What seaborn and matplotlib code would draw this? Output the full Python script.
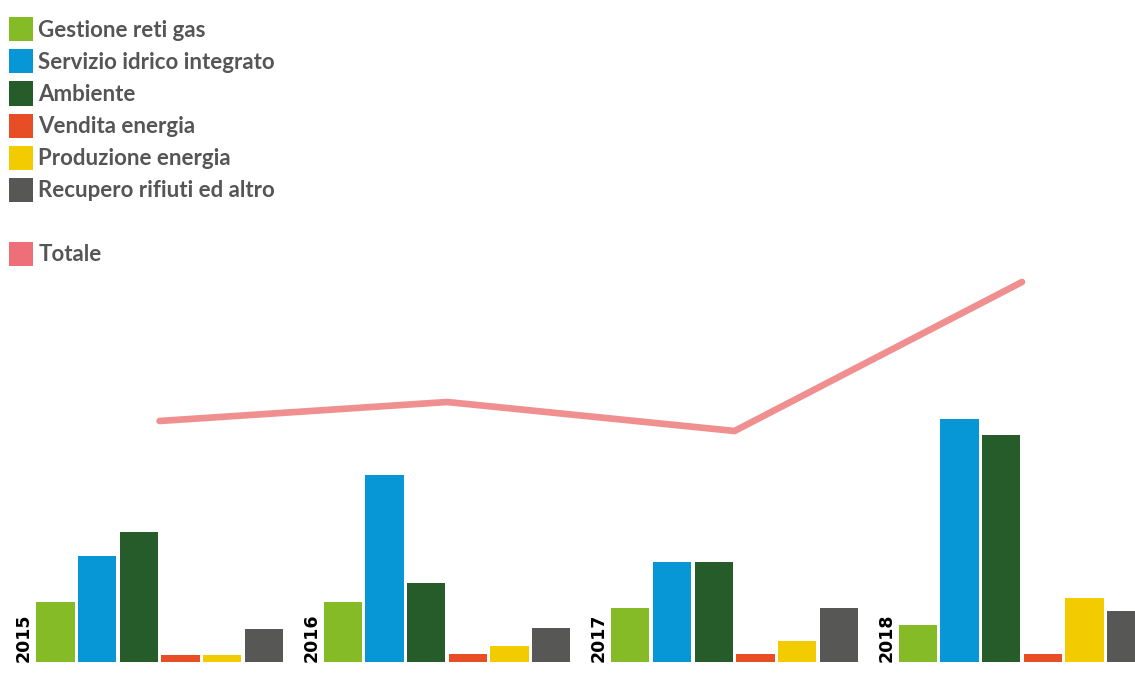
import numpy as np
import pandas as pd
import seaborn as sns
import matplotlib
matplotlib.use("Agg")
import matplotlib.pyplot as plt
from matplotlib.patches import Patch

years = ["2015", "2016", "2017", "2018"]
series = ["Gestione reti gas", "Servizio idrico integrato", "Ambiente",
          "Vendita energia", "Produzione energia", "Recupero rifiuti ed altro"]
gas = [60, 60, 54, 37]
idrico = [106, 187, 100, 243]
ambiente = [130, 79, 100, 227]
vendita = [7, 8, 8, 8]
produzione = [7, 16, 21, 64]
recupero = [33, 34, 54, 51]
totale = [241, 260, 231, 380]

colors = ["#84BB27", "#0797D6", "#265B2A", "#E84E25", "#F2CB00", "#575756"]
totale_line = "#F08F8F"
totale_patch = "#EE6F78"

rows = []
for name, vals in zip(series, [gas, idrico, ambiente, vendita, produzione, recupero]):
    for y, v in zip(years, vals):
        rows.append({"Anno": y, "Serie": name, "Valore": v})
df = pd.DataFrame(rows)
df_tot = pd.DataFrame({"x": np.arange(len(years)), "Totale": totale})

sns.set_theme(style="white")
plt.rcParams["font.family"] = ["Lato", "DejaVu Sans"]

fig = plt.figure(figsize=(11.35, 6.76), dpi=100)
ax = fig.add_axes([0, 14 / 676, 1, 662 / 676])

sns.barplot(data=df, x="Anno", y="Valore", hue="Serie", hue_order=series,
            palette=colors, width=0.87, gap=0.08, saturation=1, ax=ax,
            legend=False, linewidth=0)
sns.lineplot(data=df_tot, x="x", y="Totale", color=totale_line, linewidth=4.8,
             ax=ax, legend=False, solid_capstyle="round")

ax.set_xlim(-0.555, 3.393)
ax.set_ylim(0, 662)
ax.axis("off")

for i, y in enumerate(years):
    ax.text(i - 0.472, 0, y, rotation=90, ha="center", va="bottom",
            fontsize=12.5, fontweight="bold", color="black",
            family=["DejaVu Sans"])

handles = [Patch(facecolor=c, edgecolor="none") for c in colors]
handles.append(Patch(facecolor="none", edgecolor="none"))
handles.append(Patch(facecolor=totale_patch, edgecolor="none"))
labels = series + [" ", "Totale"]
leg = fig.legend(handles, labels, loc="upper left",
                 bbox_to_anchor=(-4 / 1135, 1 - 4 / 676),
                 frameon=False, fontsize=16, handlelength=1.08, handleheight=1.29,
                 handletextpad=0.22, labelspacing=0.36, borderaxespad=0.3,
                 borderpad=0.3)
for t in leg.get_texts():
    t.set_color("#555555")
    t.set_fontweight("bold")

fig.savefig("out.png", dpi=100)
